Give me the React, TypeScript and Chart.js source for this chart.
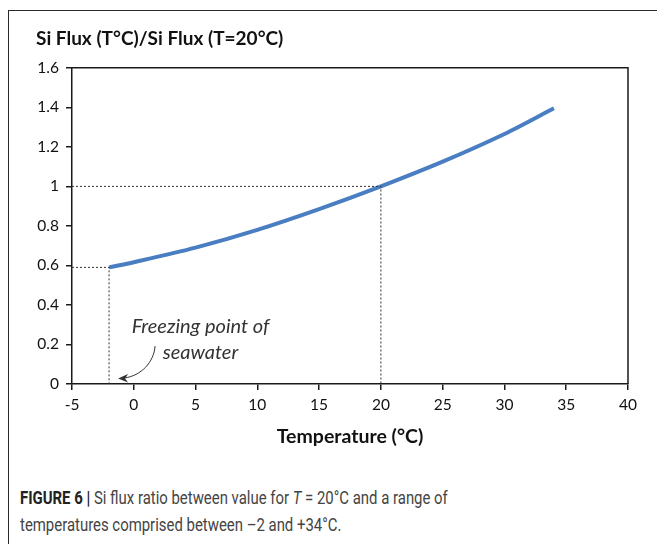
import React, { useEffect, useRef } from "react";
import { Chart, registerables } from "chart.js";

Chart.register(...registerables);

// Data
const temperatures = [-2, 0, 5, 10, 15, 20, 25, 30, 34];
const fluxRatio = [0.59, 0.616, 0.69, 0.78, 0.885, 1.0, 1.125, 1.265, 1.395];

const freezingGuide = [
  { x: -5, y: 0.59 },
  { x: -2, y: 0.59 },
  { x: -2, y: 0 },
];
const refGuide = [
  { x: -5, y: 1 },
  { x: 20, y: 1 },
  { x: 20, y: 0 },
];

const xTicks = [-5, 0, 5, 10, 15, 20, 25, 30, 35, 40];
const yTicks = [0, 0.2, 0.4, 0.6, 0.8, 1, 1.2, 1.4, 1.6];

const chartTitle = "Si Flux (T°C)/Si Flux (T=20°C)";
const xTitle = "Temperature (°C)";
const noteLines = ["Freezing point of", "seawater"];

const FONT = "Lato, 'Open Sans', 'DejaVu Sans', sans-serif";

const framePlugin = {
  id: "frameAndNote",
  afterDatasetsDraw(chart: any) {
    const { ctx, chartArea, scales } = chart;
    const xs = scales.x;
    const ys = scales.y;
    ctx.save();
    // top and right border of plot box
    ctx.strokeStyle = "#1a1a1a";
    ctx.lineWidth = 1.5;
    ctx.beginPath();
    ctx.moveTo(chartArea.left, chartArea.top);
    ctx.lineTo(chartArea.right, chartArea.top);
    ctx.lineTo(chartArea.right, chartArea.bottom);
    ctx.stroke();

    // annotation text
    ctx.fillStyle = "#333";
    ctx.font = `italic 20px ${FONT}`;
    ctx.textAlign = "center";
    ctx.textBaseline = "middle";
    ctx.fillText(noteLines[0], xs.getPixelForValue(5.4), ys.getPixelForValue(0.29));
    ctx.fillText(noteLines[1], xs.getPixelForValue(5.4), ys.getPixelForValue(0.16));

    // curved arrow
    const tipX = xs.getPixelForValue(-2) + 9;
    const tipY = ys.getPixelForValue(0) - 6;
    const sx = tipX + 37;
    const sy = tipY - 32;
    ctx.strokeStyle = "#333";
    ctx.lineWidth = 1;
    ctx.beginPath();
    ctx.moveTo(sx, sy);
    ctx.bezierCurveTo(sx - 1, sy + 16, sx - 14, tipY - 2, tipX + 6, tipY);
    ctx.stroke();
    ctx.fillStyle = "#333";
    ctx.beginPath();
    ctx.moveTo(tipX, tipY + 0.5);
    ctx.lineTo(tipX + 10, tipY - 4);
    ctx.lineTo(tipX + 7, tipY + 0.5);
    ctx.lineTo(tipX + 10, tipY + 4.5);
    ctx.closePath();
    ctx.fill();
    ctx.restore();
  },
};

function SiFluxChart() {
  const ref = useRef<HTMLCanvasElement | null>(null);
  useEffect(() => {
    if (!ref.current) return;
    const chart = new Chart(ref.current, {
      type: "line",
      data: {
        datasets: [
          {
            label: "freezing",
            data: freezingGuide,
            borderColor: "#333",
            borderWidth: 1,
            borderDash: [2, 2],
            pointRadius: 0,
            tension: 0,
          },
          {
            label: "reference",
            data: refGuide,
            borderColor: "#333",
            borderWidth: 1,
            borderDash: [2, 2],
            pointRadius: 0,
            tension: 0,
          },
          {
            label: "Si flux ratio",
            data: temperatures.map((t, i) => ({ x: t, y: fluxRatio[i] })),
            borderColor: "#4a7ec2",
            borderWidth: 4,
            pointRadius: 0,
            tension: 0.3,
            borderCapStyle: "butt",
          },
        ],
      },
      options: {
        animation: false,
        responsive: false,
        maintainAspectRatio: false,
        layout: { padding: { left: 36, right: 29, top: 0, bottom: 6 } },
        plugins: {
          legend: { display: false },
          tooltip: { enabled: false },
          title: {
            display: true,
            text: chartTitle,
            align: "start",
            color: "#111",
            font: { family: FONT, size: 19, weight: "bold" },
            padding: { top: 27, bottom: 18 },
          },
        },
        scales: {
          x: {
            type: "linear",
            min: -5,
            max: 40,
            afterBuildTicks: (axis: any) => {
              axis.ticks = xTicks.map((v) => ({ value: v }));
            },
            afterFit: (axis: any) => {
              axis.height = 70;
            },
            ticks: {
              color: "#111",
              font: { family: FONT, size: 15.5 },
              padding: 6,
              maxRotation: 0,
              callback: (v: any) => String(v),
            },
            grid: { drawOnChartArea: false, drawTicks: true, tickLength: 6, color: "#1a1a1a", lineWidth: 1.5 },
            border: { display: true, color: "#1a1a1a", width: 1.5 },
            title: {
              display: true,
              text: xTitle,
              color: "#111",
              font: { family: FONT, size: 19.5, weight: "bold" },
              padding: { top: 4, bottom: 6 },
            },
          },
          y: {
            type: "linear",
            min: 0,
            max: 1.6,
            afterBuildTicks: (axis: any) => {
              axis.ticks = yTicks.map((v) => ({ value: v }));
            },
            afterFit: (axis: any) => {
              axis.width = 36;
            },
            ticks: {
              color: "#111",
              font: { family: FONT, size: 15.5 },
              padding: 7,
              callback: (v: any) => String(Number(Number(v).toFixed(1))),
            },
            grid: { drawOnChartArea: false, drawTicks: true, tickLength: 6, color: "#1a1a1a", lineWidth: 1.5 },
            border: { display: true, color: "#1a1a1a", width: 1.5 },
          },
        },
      },
      plugins: [framePlugin],
    } as any);
    return () => chart.destroy();
  }, []);
  return <canvas ref={ref} width={657} height={460} style={{ position: "absolute", left: 0, top: 0, width: 657, height: 460 }} />;
}

export default function App() {
  return (
    <div style={{ position: "fixed", left: 0, top: 0, width: 657, height: 544, overflow: "hidden", background: "#fff" }}>
      <div
        style={{
          position: "absolute",
          left: 8,
          top: 10,
          width: 720,
          height: 620,
          border: "1.5px solid #2a2a2a",
          boxSizing: "border-box",
        }}
      />
      <SiFluxChart />
      <div
        style={{
          position: "absolute",
          left: 20,
          top: 484,
          width: 760,
          whiteSpace: "nowrap",
          transform: "scaleX(0.785)",
          transformOrigin: "0 0",
          fontFamily: "Roboto, 'Liberation Sans', sans-serif",
          fontSize: 19,
          lineHeight: "27px",
          color: "#444",
        }}
      >
        <span style={{ fontWeight: "bold", color: "#222" }}>FIGURE 6 | </span>
        Si flux ratio between value for <i>T</i> = 20°C and a range of
        <br />
        temperatures comprised between –2 and +34°C.
      </div>
    </div>
  );
}
